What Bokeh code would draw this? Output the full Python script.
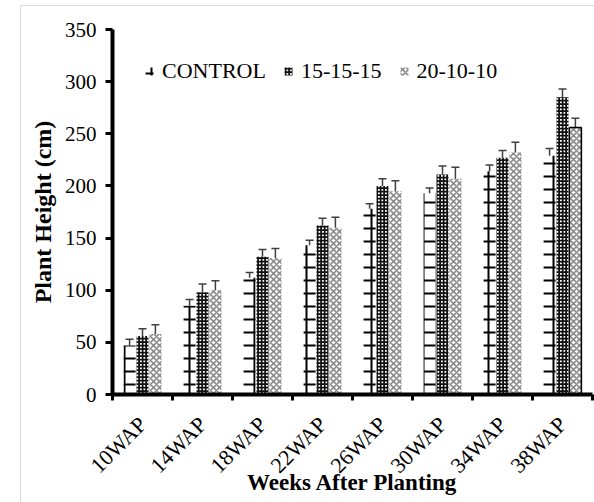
import math
from bokeh.plotting import figure
from bokeh.models import (Range1d, FixedTicker, Whisker, ColumnDataSource, Legend,
                          LegendItem, TeeHead)
from bokeh.embed import file_html
from bokeh.resources import INLINE

# ---- data ----
weeks = ["10WAP", "14WAP", "18WAP", "22WAP", "26WAP", "30WAP", "34WAP", "38WAP"]
series_names = ["CONTROL", "15-15-15", "20-10-10"]
control = [47, 85, 112, 143, 178, 193, 214, 229]
control_err = [6, 6, 5, 5, 5, 5, 6, 7]
npk_15 = [56, 98, 132, 162, 200, 211, 227, 285]
npk_15_err = [7, 8, 7, 7, 7, 8, 7, 8]
npk_20 = [58, 100, 131, 160, 195, 207, 232, 256]
npk_20_err = [9, 9, 9, 10, 10, 11, 10, 9]
y_ticks = [0, 50, 100, 150, 200, 250, 300, 350]

FONT = "Liberation Serif"

p = figure(width=594, height=502, output_backend="svg", toolbar_location=None,
           x_range=Range1d(0, len(weeks)), y_range=Range1d(0, 350),
           min_border_left=112, min_border_right=2, min_border_top=29,
           min_border_bottom=108)
p.background_fill_color = "white"
p.border_fill_alpha = 0
p.styles = {
    "background": ("linear-gradient(#d9d9d9, #d9d9d9) 20px 5px / 1px 100% no-repeat, "
                   "linear-gradient(#d9d9d9, #d9d9d9) 20px 5px / 100% 1px no-repeat, "
                   "white"),
}
p.outline_line_color = None
p.xgrid.visible = False
p.ygrid.visible = False

offsets = [-0.215, 0.0, 0.215]
bar_w = 0.2
values = [control, npk_15, npk_20]
errors = [control_err, npk_15_err, npk_20_err]
styles = [
    dict(fill_color="white", hatch_pattern="cross", hatch_color="black",
         hatch_scale=13, hatch_weight=2),
    dict(fill_color="white", hatch_pattern="cross", hatch_color="#111111",
         hatch_scale=3.5, hatch_weight=2),
    dict(fill_color="white", hatch_pattern="diagonal_cross", hatch_color="#8c8c8c",
         hatch_scale=6, hatch_weight=1.6),
]

items = []
for k, (vals, errs, st, off) in enumerate(zip(values, errors, styles, offsets)):
    xs = [i + 0.5 + off for i in range(len(weeks))]
    line_alpha = [0.0] * len(weeks)
    if k == 2:
        line_alpha[-1] = 1.0
    src = ColumnDataSource(dict(
        x=xs, top=vals,
        upper=[v + e for v, e in zip(vals, errs)],
        lower=[v - e for v, e in zip(vals, errs)],
        la=line_alpha))
    r = p.vbar(x="x", top="top", width=bar_w, source=src, line_color="black",
               line_alpha="la", line_width=1.5, **st)
    w = Whisker(base="x", upper="upper", lower="lower", source=src,
                line_color="#404040", line_width=1.5,
                upper_head=TeeHead(size=8, line_color="#404040", line_width=1.5),
                lower_head=TeeHead(size=8, line_color="#404040", line_width=1.5))
    p.add_layout(w)
    items.append(LegendItem(label=series_names[k], renderers=[r]))

legend = Legend(items=items, orientation="horizontal", location=(32, 310))
legend.label_text_font = FONT
legend.label_text_font_size = "22px"
legend.label_text_color = "black"
legend.glyph_width = 10
legend.glyph_height = 10
legend.label_standoff = 8
legend.spacing = 17
legend.padding = 0
legend.margin = 0
legend.background_fill_alpha = 0
legend.border_line_color = None
p.add_layout(legend)

# y axis
ya = p.yaxis[0]
ya.ticker = FixedTicker(ticks=y_ticks)
ya.axis_line_width = 4
ya.axis_line_color = "black"
ya.major_tick_line_width = 3
ya.major_tick_out = 7
ya.major_tick_in = 0
ya.minor_tick_line_color = None
ya.major_label_text_font = FONT
ya.major_label_text_font_size = "21px"
ya.major_label_text_color = "black"
ya.major_label_standoff = 9
ya.axis_label = "Plant Height (cm)"
ya.axis_label_text_font = FONT
ya.axis_label_text_font_style = "bold"
ya.axis_label_text_font_size = "24px"
ya.axis_label_text_color = "black"
ya.axis_label_standoff = 6

# x axis: labels at category centres, tick marks at boundaries
xa = p.xaxis[0]
xa.ticker = FixedTicker(ticks=[i + 0.5 for i in range(len(weeks))],
                        minor_ticks=list(range(len(weeks) + 1)))
xa.major_label_overrides = {i + 0.5: wk for i, wk in enumerate(weeks)}
xa.major_tick_line_color = None
xa.minor_tick_line_color = "black"
xa.minor_tick_line_width = 3
xa.minor_tick_out = 6
xa.minor_tick_in = 0
xa.axis_line_width = 4
xa.axis_line_color = "black"
xa.major_label_orientation = math.pi / 4
xa.major_label_text_font = FONT
xa.major_label_text_font_size = "22px"
xa.major_label_text_color = "black"
xa.major_label_standoff = 20
xa.axis_label = "Weeks After Planting"
xa.axis_label_text_font = FONT
xa.axis_label_text_font_style = "bold"
xa.axis_label_text_font_size = "23px"
xa.axis_label_text_color = "black"
xa.axis_label_standoff = -20

open("out.html", "w").write(file_html(p, INLINE))
